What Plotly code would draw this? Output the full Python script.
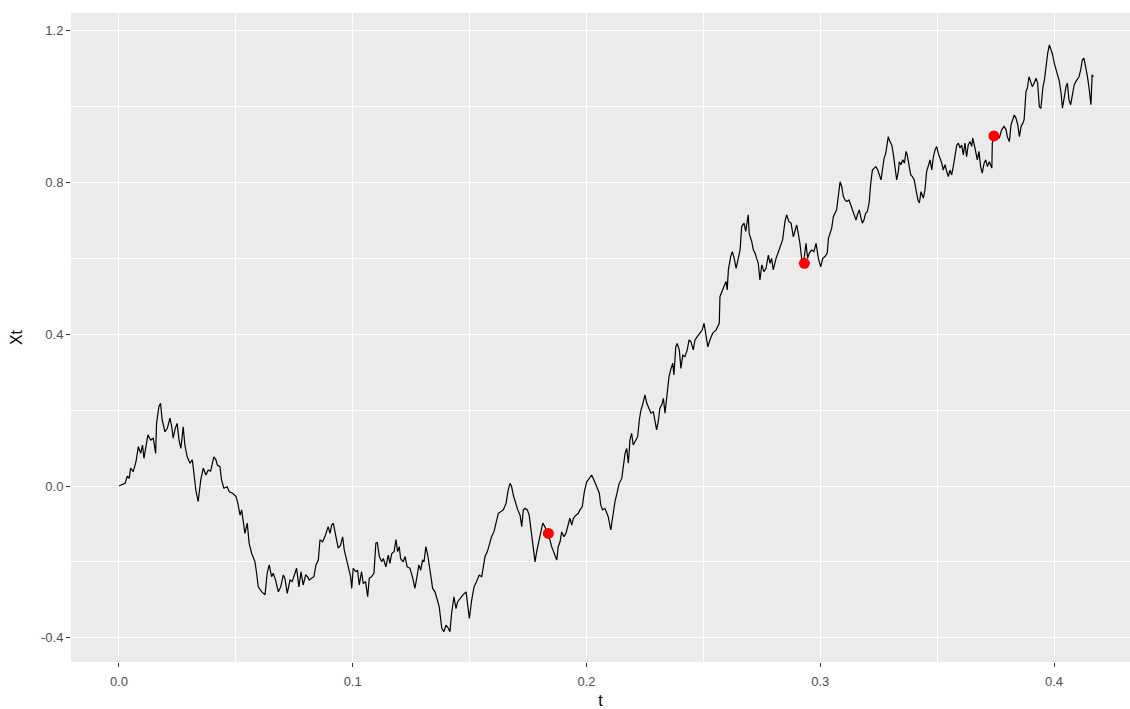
import plotly.graph_objects as go

# Simulated path X_t, sampled along t
t_a = [0, 0.0012, 0.0026, 0.0036, 0.0044, 0.0050, 0.0061, 0.0073, 0.0083, 0.0093,
       0.0101, 0.0107, 0.0116, 0.0124, 0.0136, 0.0147, 0.0157, 0.0161, 0.0171, 0.0178,
       0.0185, 0.0197, 0.0207, 0.0218, 0.0226, 0.0232, 0.0241, 0.0249, 0.0257, 0.0265,
       0.0275, 0.0282, 0.0292, 0.0304, 0.0314, 0.0321, 0.0329, 0.0339, 0.0350, 0.0361,
       0.0372, 0.0382, 0.0392, 0.0406, 0.0415, 0.0421, 0.0432, 0.0439, 0.0449, 0.0463,
       0.0472, 0.0486, 0.0501, 0.0510]
x_a = [0, 0.003, 0.007, 0.026, 0.020, 0.047, 0.038, 0.064, 0.104, 0.086,
       0.108, 0.073, 0.113, 0.135, 0.121, 0.126, 0.086, 0.165, 0.209, 0.218,
       0.174, 0.143, 0.152, 0.179, 0.156, 0.126, 0.152, 0.165, 0.121, 0.099,
       0.156, 0.108, 0.077, 0.060, 0.069, 0.025, -0.011, -0.041, 0.016, 0.047,
       0.029, 0.042, 0.039, 0.077, 0.069, 0.055, 0.051, 0.016, -0.006, -0.002,
       -0.015, -0.019, -0.028, -0.050]

t_b = [0.0518, 0.0525, 0.0532, 0.0539, 0.0549, 0.0557, 0.0568, 0.0582, 0.0589, 0.0596,
       0.0611, 0.0625, 0.0634, 0.0643, 0.0653, 0.0660, 0.0670, 0.0682, 0.0692, 0.0703,
       0.0710, 0.0720, 0.0732, 0.0741, 0.0753, 0.0760, 0.0770, 0.0779, 0.0788, 0.0799,
       0.0807, 0.0814, 0.0824, 0.0834, 0.0843, 0.0853, 0.0860, 0.0871, 0.0881, 0.0889,
       0.0895, 0.0903, 0.0910, 0.0917, 0.0924, 0.0931, 0.0938, 0.0948, 0.0957, 0.0964,
       0.0974, 0.0984, 0.0991, 0.0996, 0.1002, 0.1014, 0.1021, 0.1028]
x_b = [-0.077, -0.063, -0.098, -0.125, -0.098, -0.151, -0.178, -0.200, -0.230, -0.266,
       -0.279, -0.287, -0.230, -0.208, -0.239, -0.230, -0.248, -0.279, -0.266, -0.235,
       -0.243, -0.283, -0.248, -0.252, -0.230, -0.217, -0.266, -0.226, -0.261, -0.235,
       -0.239, -0.248, -0.243, -0.239, -0.208, -0.195, -0.142, -0.147, -0.134, -0.121,
       -0.107, -0.125, -0.103, -0.098, -0.116, -0.142, -0.164, -0.156, -0.134, -0.169,
       -0.195, -0.226, -0.239, -0.270, -0.217, -0.226, -0.222, -0.261]

t_c = [0.1038, 0.1045, 0.1055, 0.1064, 0.1071, 0.1081, 0.1091, 0.1099, 0.1105, 0.1114,
       0.1124, 0.1131, 0.1142, 0.1152, 0.1159, 0.1167, 0.1177, 0.1185, 0.1192, 0.1199,
       0.1205, 0.1216, 0.1224, 0.1233, 0.1245, 0.1257, 0.1266, 0.1274, 0.1283, 0.1291,
       0.1299, 0.1305, 0.1313, 0.1321, 0.1331, 0.1342, 0.1352, 0.1362, 0.1370, 0.1381,
       0.1390, 0.1399, 0.1409, 0.1416, 0.1423, 0.1433, 0.1442, 0.1449, 0.1459, 0.1472,
       0.1485, 0.1490, 0.1499, 0.1509, 0.1519, 0.1530, 0.1541]
x_c = [-0.226, -0.257, -0.252, -0.292, -0.243, -0.239, -0.230, -0.151, -0.148, -0.186,
       -0.200, -0.191, -0.213, -0.182, -0.204, -0.178, -0.173, -0.141, -0.173, -0.160,
       -0.191, -0.200, -0.186, -0.213, -0.217, -0.243, -0.270, -0.243, -0.208, -0.222,
       -0.195, -0.200, -0.160, -0.182, -0.230, -0.270, -0.279, -0.301, -0.318, -0.375,
       -0.384, -0.367, -0.375, -0.384, -0.336, -0.292, -0.323, -0.305, -0.296, -0.287,
       -0.279, -0.309, -0.349, -0.301, -0.266, -0.252, -0.235]

t_d = [0.1552, 0.1559, 0.1566, 0.1576, 0.1584, 0.1594, 0.1604, 0.1613, 0.1623, 0.1633,
       0.1644, 0.1656, 0.1665, 0.1673, 0.1680, 0.1687, 0.1697, 0.1706, 0.1716, 0.1723,
       0.1730, 0.1737, 0.1747, 0.1755, 0.1761, 0.1770, 0.1780, 0.1787, 0.1797, 0.1804,
       0.1813, 0.1822, 0.1832, 0.1844, 0.1851, 0.1861, 0.1873, 0.1879, 0.1887, 0.1894,
       0.1904, 0.1912, 0.1922, 0.1929, 0.1937, 0.1944, 0.1955, 0.1965, 0.1972, 0.1982,
       0.1991, 0.2001, 0.2012, 0.2022, 0.2032, 0.2044, 0.2055]
x_d = [-0.239, -0.213, -0.186, -0.173, -0.156, -0.134, -0.121, -0.094, -0.072, -0.068,
       -0.063, -0.046, -0.011, 0.007, -0.002, -0.024, -0.046, -0.063, -0.077, -0.107,
       -0.063, -0.059, -0.063, -0.077, -0.107, -0.156, -0.200, -0.173, -0.142, -0.125,
       -0.098, -0.107, -0.121, -0.142, -0.160, -0.178, -0.195, -0.160, -0.147, -0.121,
       -0.134, -0.125, -0.103, -0.085, -0.103, -0.085, -0.077, -0.072, -0.063, -0.055,
       -0.015, 0.011, 0.020, 0.029, 0.016, -0.002, -0.019]

t_e = [0.2061, 0.2069, 0.2079, 0.2086, 0.2093, 0.2104, 0.2112, 0.2122, 0.2132, 0.2140,
       0.2151, 0.2157, 0.2165, 0.2172, 0.2179, 0.2186, 0.2193, 0.2200, 0.2211, 0.2219,
       0.2226, 0.2233, 0.2240, 0.2250, 0.2258, 0.2267, 0.2276, 0.2286, 0.2293, 0.2300,
       0.2307, 0.2314, 0.2322, 0.2329, 0.2336, 0.2346, 0.2353, 0.2360, 0.2369, 0.2374,
       0.2382, 0.2388, 0.2397, 0.2404, 0.2412, 0.2421, 0.2431, 0.2439, 0.2447, 0.2457,
       0.2464, 0.2474, 0.2486, 0.2495, 0.2503, 0.2511, 0.2519, 0.2528, 0.2540, 0.2554,
       0.2568]
x_e = [-0.050, -0.063, -0.059, -0.072, -0.081, -0.116, -0.081, -0.041, -0.015, 0.007,
       0.020, 0.051, 0.086, 0.099, 0.060, 0.121, 0.139, 0.108, 0.121, 0.130,
       0.174, 0.200, 0.214, 0.240, 0.218, 0.205, 0.192, 0.196, 0.174, 0.148,
       0.170, 0.205, 0.214, 0.231, 0.192, 0.253, 0.288, 0.306, 0.324, 0.293,
       0.367, 0.376, 0.359, 0.310, 0.345, 0.341, 0.359, 0.385, 0.380, 0.359,
       0.385, 0.394, 0.403, 0.411, 0.429, 0.398, 0.367, 0.385, 0.403, 0.411,
       0.429]

t_f = [0.2571, 0.2578, 0.2588, 0.2597, 0.2602, 0.2607, 0.2617, 0.2624, 0.2632, 0.2640,
       0.2649, 0.2657, 0.2664, 0.2674, 0.2681, 0.2688, 0.2692, 0.2696, 0.2707, 0.2714,
       0.2721, 0.2728, 0.2735, 0.2742, 0.2750, 0.2759, 0.2768, 0.2778, 0.2785, 0.2792,
       0.2799, 0.2811, 0.2821, 0.2831, 0.2839, 0.2849, 0.2856, 0.2866, 0.2875, 0.2885,
       0.2892, 0.2899, 0.2906, 0.2913, 0.2921, 0.2928, 0.2939, 0.2946, 0.2953, 0.2963,
       0.2973, 0.2982, 0.2992, 0.3002, 0.3011, 0.3020, 0.3030, 0.3035]
x_f = [0.499, 0.512, 0.526, 0.539, 0.517, 0.570, 0.605, 0.618, 0.600, 0.574,
       0.605, 0.622, 0.684, 0.693, 0.671, 0.701, 0.715, 0.666, 0.644, 0.622,
       0.614, 0.600, 0.587, 0.543, 0.583, 0.565, 0.574, 0.609, 0.587, 0.600,
       0.570, 0.600, 0.618, 0.636, 0.649, 0.697, 0.715, 0.697, 0.693, 0.657,
       0.675, 0.688, 0.666, 0.640, 0.596, 0.587, 0.640, 0.600, 0.614, 0.622,
       0.618, 0.640, 0.600, 0.578, 0.600, 0.605, 0.614, 0.653]

t_g = [0.3049, 0.3056, 0.3063, 0.3070, 0.3077, 0.3085, 0.3092, 0.3099, 0.3106, 0.3113,
       0.3123, 0.3130, 0.3137, 0.3144, 0.3153, 0.3159, 0.3167, 0.3173, 0.3180, 0.3187,
       0.3194, 0.3201, 0.3209, 0.3216, 0.3223, 0.3231, 0.3238, 0.3246, 0.3253, 0.3260,
       0.3267, 0.3273, 0.3280, 0.3284, 0.3291, 0.3298, 0.3306, 0.3313, 0.3320, 0.3327,
       0.3334, 0.3338, 0.3345, 0.3353, 0.3360, 0.3367, 0.3372, 0.3380, 0.3387, 0.3395,
       0.3402, 0.3411, 0.3418, 0.3424, 0.3431, 0.3441, 0.3448, 0.3455, 0.3462, 0.3470,
       0.3477, 0.3484, 0.3491, 0.3498, 0.3505, 0.3512, 0.3520, 0.3526, 0.3534, 0.3541,
       0.3548, 0.3555, 0.3562, 0.3569, 0.3576, 0.3584, 0.3591, 0.3598, 0.3605, 0.3612,
       0.3619, 0.3626, 0.3633, 0.3641, 0.3648, 0.3652, 0.3659, 0.3666, 0.3672, 0.3679,
       0.3686, 0.3693, 0.3701, 0.3708, 0.3715, 0.3723, 0.3729, 0.3734, 0.3736, 0.3743]
x_g = [0.680, 0.710, 0.719, 0.728, 0.763, 0.802, 0.789, 0.763, 0.754, 0.750,
       0.754, 0.741, 0.728, 0.719, 0.701, 0.715, 0.728, 0.710, 0.693, 0.701,
       0.719, 0.723, 0.746, 0.798, 0.833, 0.838, 0.842, 0.833, 0.820, 0.807,
       0.838, 0.864, 0.877, 0.899, 0.921, 0.908, 0.899, 0.873, 0.833, 0.807,
       0.829, 0.855, 0.847, 0.860, 0.851, 0.882, 0.873, 0.838, 0.820, 0.815,
       0.807, 0.776, 0.754, 0.746, 0.776, 0.759, 0.781, 0.829, 0.842, 0.860,
       0.833, 0.868, 0.886, 0.895, 0.877, 0.864, 0.851, 0.833, 0.847, 0.829,
       0.816, 0.833, 0.820, 0.842, 0.868, 0.899, 0.904, 0.891, 0.899, 0.873,
       0.904, 0.868, 0.899, 0.908, 0.895, 0.917, 0.899, 0.873, 0.860, 0.882,
       0.842, 0.825, 0.851, 0.860, 0.842, 0.855, 0.842, 0.838, 0.904, 0.923]

t_h = [0.3755, 0.3766, 0.3776, 0.3786, 0.3795, 0.3800, 0.3809, 0.3816, 0.3823, 0.3830,
       0.3837, 0.3845, 0.3852, 0.3859, 0.3866, 0.3872, 0.3880, 0.3886, 0.3893, 0.3900,
       0.3907, 0.3915, 0.3923, 0.3930, 0.3937, 0.3944, 0.3952, 0.3959, 0.3966, 0.3973,
       0.3980, 0.3987, 0.3994, 0.4001, 0.4009, 0.4016, 0.4023, 0.4030, 0.4036, 0.4043,
       0.4051, 0.4057, 0.4064, 0.4071, 0.4078, 0.4086, 0.4093, 0.4100, 0.4107, 0.4114,
       0.4121, 0.4128, 0.4136, 0.4143, 0.4150, 0.4154, 0.4158, 0.4163, 0.4168]
x_h = [0.926, 0.917, 0.939, 0.948, 0.939, 0.921, 0.908, 0.952, 0.965, 0.978,
       0.970, 0.952, 0.921, 0.948, 0.956, 0.965, 1.040, 1.049, 1.079, 1.066,
       1.053, 1.062, 1.075, 1.062, 1.000, 0.996, 1.049, 1.071, 1.115, 1.141,
       1.163, 1.150, 1.137, 1.115, 1.097, 1.084, 1.066, 1.036, 0.996, 1.022,
       1.053, 1.062, 1.018, 1.005, 1.027, 1.057, 1.066, 1.071, 1.079, 1.097,
       1.123, 1.128, 1.106, 1.079, 1.049, 1.013, 1.005, 1.084, 1.079]

t_path = t_a + t_b + t_c + t_d + t_e + t_f + t_g + t_h
x_path = x_a + x_b + x_c + x_d + x_e + x_f + x_g + x_h

# Highlighted observations
t_obs = [0.1837, 0.2932, 0.3743]
x_obs = [-0.125, 0.587, 0.923]

x_tick_vals = [0.0, 0.1, 0.2, 0.3, 0.4]
x_tick_text = ["0.0", "0.1", "0.2", "0.3", "0.4"]
y_tick_vals = [-0.4, 0.0, 0.4, 0.8, 1.2]
y_tick_text = ["-0.4", "0.0", "0.4", "0.8", "1.2"]

FONT = "Liberation Sans, Arial, sans-serif"

fig = go.Figure()
fig.add_trace(go.Scatter(
    x=t_path, y=x_path, mode="lines",
    line=dict(color="black", width=1.2),
    hoverinfo="skip", showlegend=False,
))
fig.add_trace(go.Scatter(
    x=t_obs, y=x_obs, mode="markers",
    marker=dict(color="red", size=11, line=dict(width=0)),
    showlegend=False,
))

axis_common = dict(
    showgrid=True, gridcolor="white", gridwidth=1.3,
    zeroline=False, showline=False,
    ticks="outside", ticklen=4, tickwidth=1, tickcolor="#333333",
    tickfont=dict(family=FONT, size=13, color="#4D4D4D"),
)

fig.update_layout(
    width=1130, height=709,
    margin=dict(l=71, r=0, t=13, b=47),
    paper_bgcolor="white", plot_bgcolor="#EBEBEB",
    font=dict(family=FONT),
    xaxis=dict(
        axis_common, range=[-0.0205, 0.4325],
        tickvals=x_tick_vals, ticktext=x_tick_text,
        ticklabelstandoff=3,
        minor=dict(dtick=0.05, tick0=0, showgrid=True, gridcolor="white", gridwidth=0.6),
        title=dict(text="t", font=dict(family=FONT, size=16, color="black"), standoff=10),
    ),
    yaxis=dict(
        axis_common, range=[-0.464, 1.247],
        tickvals=y_tick_vals, ticktext=y_tick_text,
        minor=dict(dtick=0.2, tick0=0, showgrid=True, gridcolor="white", gridwidth=0.6),
        title=dict(text="Xt", font=dict(family=FONT, size=16, color="black"), standoff=14),
    ),
)

fig.write_html("out.html")
